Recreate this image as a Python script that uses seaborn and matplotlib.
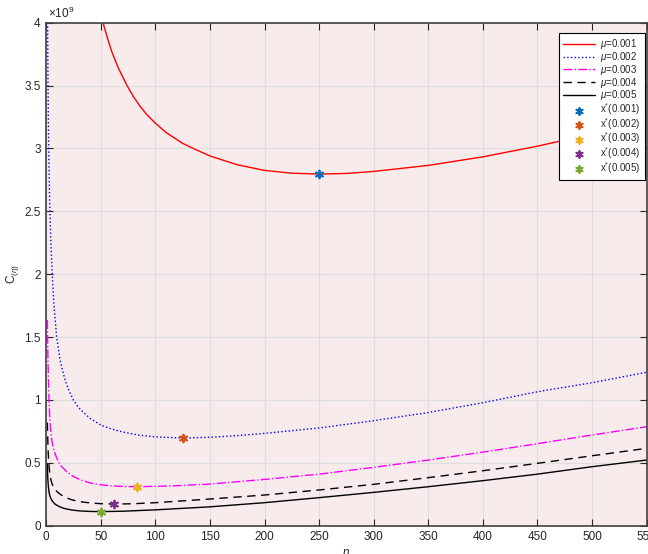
import matplotlib
matplotlib.use("Agg")
import matplotlib.pyplot as plt
import numpy as np
import pandas as pd
import seaborn as sns
from matplotlib.ticker import FuncFormatter, MultipleLocator

# ---- data (C values in units of 1e9) ----
eta_mu1 = [52, 56, 60, 66, 74, 80, 86, 92, 100, 110, 125, 137, 150, 175, 200, 225, 250,
           275, 300, 350, 400, 450, 500, 550]
c_mu1 = [4.0, 3.88, 3.77, 3.64, 3.50, 3.41, 3.335, 3.27, 3.20, 3.125, 3.04, 2.99, 2.94,
         2.87, 2.825, 2.803, 2.796, 2.801, 2.817, 2.865, 2.933, 3.018, 3.115, 3.225]

eta_mu2 = [1.2, 1.6, 2.2, 3.0, 4.0, 5.3, 7, 9.5, 13, 17.2, 21, 24.8, 30, 40, 50, 60, 70,
           85, 100, 125, 150, 175, 200, 250, 300, 350, 400, 450, 500, 550]
c_mu2 = [4.0, 3.5, 3.0, 2.62, 2.3, 2.03, 1.76, 1.50, 1.30, 1.16, 1.07, 1.0, 0.935, 0.854,
         0.800, 0.768, 0.745, 0.72, 0.706, 0.697, 0.703, 0.716, 0.734, 0.777, 0.835, 0.90,
         0.978, 1.065, 1.137, 1.22]

eta_mu3 = [1.0, 1.4, 1.9, 2.4, 3.0, 3.7, 4.5, 5.5, 7, 9.5, 13, 18.7, 25, 30.9, 40, 49, 60,
           70, 83, 115, 150, 200, 250, 300, 350, 400, 450, 500, 550]
c_mu3 = [1.635, 1.40, 1.20, 1.03, 0.90, 0.80, 0.72, 0.66, 0.60, 0.54, 0.48, 0.43, 0.39,
         0.366, 0.34, 0.326, 0.317, 0.312, 0.31, 0.316, 0.331, 0.368, 0.41, 0.464, 0.522,
         0.585, 0.652, 0.721, 0.787]

eta_mu4 = [1.0, 1.4, 1.8, 2.3, 2.8, 3.4, 4.1, 5.2, 6.5, 8, 9.75, 12, 14, 18.7, 23, 30, 40,
           50, 62, 80, 100, 150, 200, 250, 300, 350, 400, 450, 500, 550]
c_mu4 = [0.82, 0.68, 0.58, 0.50, 0.45, 0.405, 0.37, 0.335, 0.31, 0.29, 0.272, 0.255, 0.243,
         0.221, 0.207, 0.192, 0.181, 0.175, 0.172, 0.1745, 0.183, 0.212, 0.244, 0.284,
         0.329, 0.382, 0.437, 0.496, 0.556, 0.615]

eta_mu5 = [1.0, 1.15, 1.45, 1.8, 2.2, 2.7, 3.3, 4.2, 5.7, 7.8, 11.2, 15, 18.5, 24, 30, 36,
           42, 50, 70, 100, 150, 200, 250, 300, 350, 400, 450, 500, 550]
c_mu5 = [0.49, 0.43, 0.37, 0.324, 0.29, 0.26, 0.238, 0.216, 0.194, 0.173, 0.155, 0.141,
         0.133, 0.124, 0.118, 0.115, 0.113, 0.112, 0.115, 0.126, 0.150, 0.183, 0.223,
         0.265, 0.31, 0.358, 0.41, 0.469, 0.522]

mu_labels = ["0.001", "0.002", "0.003", "0.004", "0.005"]
opt_eta = [250, 125, 83.3, 62.5, 50]
opt_c = [2.796, 0.697, 0.31, 0.172, 0.112]

line_colors = ["#FF0000", "#0000FF", "#FF00FF", "#000000", "#000000"]
line_styles = ["-", ":", "-.", (0, (6, 4)), "-"]
marker_colors = ["#0072BD", "#D95319", "#EDB120", "#7E2F8E", "#77AC30"]

curves = [(eta_mu1, c_mu1), (eta_mu2, c_mu2), (eta_mu3, c_mu3), (eta_mu4, c_mu4), (eta_mu5, c_mu5)]

sns.set_theme(style="ticks")
plt.rcParams["font.family"] = ["Liberation Sans", "DejaVu Sans"]
plt.rcParams["mathtext.fontset"] = "custom"
plt.rcParams["mathtext.rm"] = "Liberation Sans"
plt.rcParams["mathtext.it"] = "Liberation Sans:italic"

fig = plt.figure(figsize=(6.48, 5.54), dpi=100)
ax = fig.add_axes([0.0714, 0.0511, 0.9265, 0.908])
ax.set_facecolor("#F7EBEB")

for (ex, cy), lab, col, ls in zip(curves, mu_labels, line_colors, line_styles):
    df = pd.DataFrame({"eta": ex, "C": cy})
    sns.lineplot(data=df, x="eta", y="C", ax=ax, color=col, linestyle=ls,
                 linewidth=1.0, sort=False, estimator=None,
                 label=r"$\mu$=" + lab)

for e, c, lab, col in zip(opt_eta, opt_c, mu_labels, marker_colors):
    dfp = pd.DataFrame({"eta": [e], "C": [c]})
    sns.scatterplot(data=dfp, x="eta", y="C", ax=ax, marker=(6, 2, 0),
                    color=col, edgecolor=col, s=30, linewidth=1.4,
                    label=r"x$^{*}$(" + lab + ")", zorder=5)

ax.set_xlim(0, 550)
ax.set_ylim(0, 4)
ax.xaxis.set_major_locator(MultipleLocator(50))
ax.yaxis.set_major_locator(MultipleLocator(0.5))
ax.yaxis.set_major_formatter(FuncFormatter(lambda v, p: f"{v:g}"))
ax.grid(True, color="#DEDEDE", linewidth=0.8)
ax.set_axisbelow(True)
ax.tick_params(direction="in", top=True, right=True, length=5, width=0.8,
               colors="#262626", labelsize=8.5, pad=4)
for sp in ax.spines.values():
    sp.set_visible(True)
    sp.set_color("#404040")
    sp.set_linewidth(1.2)

ax.text(0.003, 1.004, r"$\times10^{9}$", transform=ax.transAxes, fontsize=8.5,
        ha="left", va="bottom", color="#262626")
ax.set_xlabel(r"$\eta$", fontsize=8.5, labelpad=3, color="#262626")
ax.set_ylabel(r"C$_{(\eta)}$", fontsize=8.5, labelpad=2, color="#262626")

leg = ax.legend(loc="upper right", bbox_to_anchor=(0.997, 0.98), fontsize=7,
                frameon=True, fancybox=False, framealpha=1, edgecolor="black",
                labelspacing=-0.12, handlelength=3.3, borderpad=0.45,
                handletextpad=0.5, borderaxespad=0, markerscale=0.9)
leg.get_frame().set_linewidth(0.8)

fig.savefig("out.png", dpi=100)
